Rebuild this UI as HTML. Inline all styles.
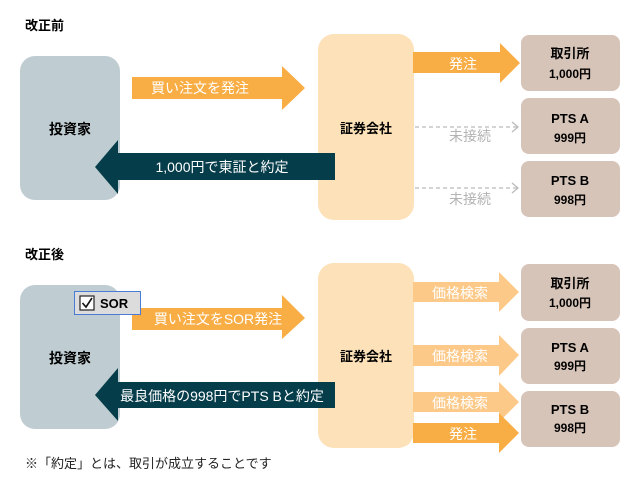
<!DOCTYPE html>
<html><head><meta charset="utf-8"><style>
html,body{margin:0;padding:0;background:#fff;}
svg{display:block;font-family:"Liberation Sans","Noto Sans CJK JP",sans-serif;}
.w{fill:#fff;font-size:14px;}
.b{font-weight:bold;fill:#000;}
</style></head><body>
<svg width="642" height="487" viewBox="0 0 642 487" xmlns="http://www.w3.org/2000/svg">
<!-- TOP -->
<text x="25" y="30" class="b" font-size="13">改正前</text>
<rect x="20" y="56" width="100" height="144" rx="15" fill="#bfcdd2"/>
<text x="70" y="134" class="b" font-size="14" text-anchor="middle">投資家</text>
<rect x="318" y="34" width="96" height="186" rx="16" fill="#fde1b8"/>
<text x="366" y="133" class="b" font-size="13" text-anchor="middle">証券会社</text>
<polygon points="132,77 282,77 282,66 305,88 282,110 282,99 132,99" fill="#f8ad45"/>
<text x="200" y="93" class="w" text-anchor="middle">買い注文を発注</text>
<polygon points="335,153 118,153 118,140 95,167 118,194 118,180 335,180" fill="#063d4a"/>
<text x="222" y="172" class="w" text-anchor="middle">1,000円で東証と約定</text>
<polygon points="413,52 500,52 500,43 520,63 500,83 500,73 413,73" fill="#f8ad45"/>
<text x="463" y="69" class="w" text-anchor="middle">発注</text>
<line x1="415" y1="127" x2="518" y2="127" stroke="#bbb" stroke-width="1.3" stroke-dasharray="4,3"/>
<polyline points="512,122 518,127 512,132" fill="none" stroke="#bbb" stroke-width="1.3"/>
<text x="470" y="141" font-size="14" fill="#b3b3b3" text-anchor="middle">未接続</text>
<line x1="415" y1="188" x2="518" y2="188" stroke="#bbb" stroke-width="1.3" stroke-dasharray="4,3"/>
<polyline points="512,183 518,188 512,193" fill="none" stroke="#bbb" stroke-width="1.3"/>
<text x="470" y="204" font-size="14" fill="#b3b3b3" text-anchor="middle">未接続</text>
<rect x="521" y="35" width="99" height="56" rx="8" fill="#d7c4b8"/>
<text x="570" y="58" class="b" font-size="13" text-anchor="middle">取引所</text>
<text x="570" y="78" class="b" font-size="12" text-anchor="middle">1,000円</text>
<rect x="521" y="98" width="99" height="56" rx="8" fill="#d7c4b8"/>
<text x="570" y="123" class="b" font-size="13" text-anchor="middle">PTS A</text>
<text x="570" y="142" class="b" font-size="12" text-anchor="middle">999円</text>
<rect x="521" y="161" width="99" height="56" rx="8" fill="#d7c4b8"/>
<text x="570" y="185" class="b" font-size="13" text-anchor="middle">PTS B</text>
<text x="570" y="204" class="b" font-size="12" text-anchor="middle">998円</text>

<!-- BOTTOM -->
<text x="25" y="259" class="b" font-size="13">改正後</text>
<rect x="20" y="285" width="100" height="144" rx="15" fill="#bfcdd2"/>
<text x="70" y="363" class="b" font-size="14" text-anchor="middle">投資家</text>
<rect x="318" y="263" width="96" height="185" rx="16" fill="#fde1b8"/>
<text x="366" y="361" class="b" font-size="13" text-anchor="middle">証券会社</text>
<polygon points="132,308 282,308 282,295 305,318 282,339 282,330 132,330" fill="#f8ad45"/>
<text x="218" y="324" class="w" text-anchor="middle">買い注文をSOR発注</text>
<rect x="74.5" y="291.5" width="66" height="23" fill="#dcdcdc" stroke="#4a7cd6" stroke-width="1"/>
<rect x="80" y="296" width="14" height="14" fill="#fff" stroke="#222" stroke-width="1.2"/>
<polyline points="82.5,303 86,307 92,298" fill="none" stroke="#111" stroke-width="1.6"/>
<text x="100" y="308" class="b" font-size="13">SOR</text>
<polygon points="335,382 118,382 118,368 95,395 118,421 118,408 335,408" fill="#063d4a"/>
<text x="222" y="401" class="w" text-anchor="middle">最良価格の998円でPTS Bと約定</text>
<polygon points="413,282 499,282 499,272 519,292 499,312 499,302 413,302" fill="#fcc988"/>
<text x="460" y="298" class="w" text-anchor="middle">価格検索</text>
<polygon points="413,345 499,345 499,335 519,355 499,376 499,366 413,366" fill="#fcc988"/>
<text x="460" y="361" class="w" text-anchor="middle">価格検索</text>
<polygon points="413,392 499,392 499,382 519,402 499,422 499,412 413,412" fill="#fcc988"/>
<text x="460" y="408" class="w" text-anchor="middle">価格検索</text>
<polygon points="413,423 499,423 499,413 519,433 499,453 499,443 413,443" fill="#f8ad45"/>
<text x="463" y="439" class="w" text-anchor="middle">発注</text>
<rect x="521" y="264" width="99" height="57" rx="8" fill="#d7c4b8"/>
<text x="570" y="288" class="b" font-size="13" text-anchor="middle">取引所</text>
<text x="570" y="307" class="b" font-size="12" text-anchor="middle">1,000円</text>
<rect x="521" y="328" width="99" height="56" rx="8" fill="#d7c4b8"/>
<text x="570" y="352" class="b" font-size="13" text-anchor="middle">PTS A</text>
<text x="570" y="370" class="b" font-size="12" text-anchor="middle">999円</text>
<rect x="521" y="391" width="99" height="56" rx="8" fill="#d7c4b8"/>
<text x="570" y="414" class="b" font-size="13" text-anchor="middle">PTS B</text>
<text x="570" y="432" class="b" font-size="12" text-anchor="middle">998円</text>
<text x="25" y="468" font-size="13" fill="#222">※「約定」とは、取引が成立することです</text>
</svg>
</body></html>
